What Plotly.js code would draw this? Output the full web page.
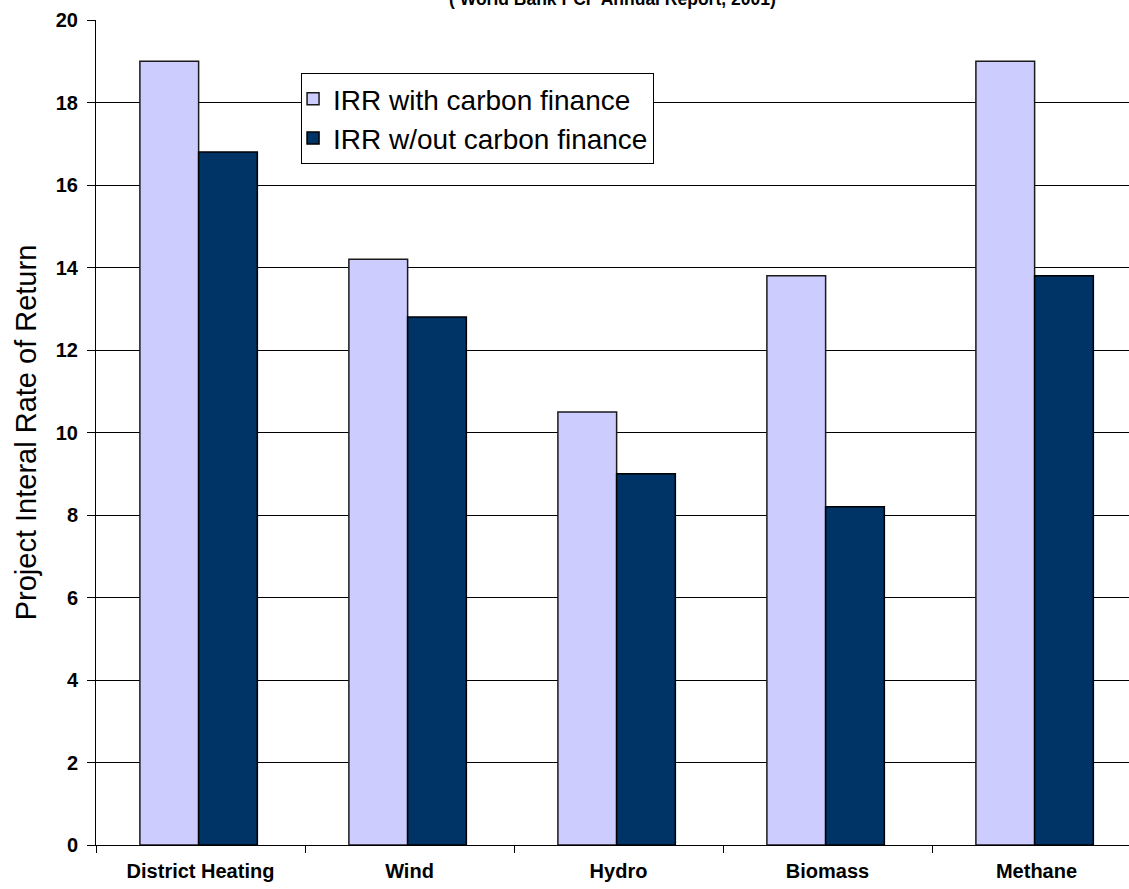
<!DOCTYPE html>
<html>
<head>
<meta charset="utf-8">
<script src="https://cdn.plot.ly/plotly-3.0.1.min.js"></script>
<style>
  html, body { margin: 0; padding: 0; background: #ffffff; overflow: hidden; }
  #chart { width: 1129px; height: 889px; }
</style>
</head>
<body>
<div id="chart"></div>
<script>
// Project types and their internal rates of return (%)
const projects = ["District Heating", "Wind", "Hydro", "Biomass", "Methane"];
const irrWithCarbon = [19.0, 14.2, 10.5, 13.8, 19.0];
const irrWithoutCarbon = [16.8, 12.8, 9.0, 8.2, 13.8];
const seriesNames = ["IRR with carbon finance", "IRR w/out carbon finance"];
const yTicks = [0, 2, 4, 6, 8, 10, 12, 14, 16, 18, 20];
const sourceNote = "( World Bank PCF Annual Report, 2001)";

const sans = "'Liberation Sans', Arial, sans-serif";

// bar width and offsets in category units (pair sits just left of centre)
const barWidth = 0.281;

const traces = [
  {
    type: "bar",
    name: seriesNames[0],
    x: projects,
    y: irrWithCarbon,
    legendgroup: "a",
    width: barWidth,
    offset: -0.29,
    marker: { color: "#CCCCFF", line: { color: "#1a1a1a", width: 1.5 } },
    hoverinfo: "x+y"
  },
  {
    type: "bar",
    name: seriesNames[1],
    x: projects,
    y: irrWithoutCarbon,
    legendgroup: "b",
    width: barWidth,
    offset: -0.009,
    marker: { color: "#003366", line: { color: "#000000", width: 1.5 } },
    hoverinfo: "x+y"
  }
];

const layout = {
  width: 1129,
  height: 889,
  margin: { l: 96, r: 0, t: 20, b: 44 },
  paper_bgcolor: "#ffffff",
  plot_bgcolor: "#ffffff",
  barmode: "group",
  showlegend: true,
  legend: {
    x: 0.1985, y: 0.9358, xanchor: "left", yanchor: "top",
    bgcolor: "#ffffff",
    bordercolor: "#000000",
    borderwidth: 1,
    font: { family: sans, size: 28, color: "#000000" },
    traceorder: "grouped",
    tracegroupgap: 0,
    itemwidth: 30,
    indentation: -9
  },
  xaxis: {
    type: "category",
    range: [-0.5, 4.4426],
    tickson: "boundaries",
    ticks: "outside",
    ticklen: 7,
    tickwidth: 1,
    tickcolor: "#000000",
    ticklabelstandoff: 8,
    showline: true,
    linecolor: "#000000",
    linewidth: 1,
    showgrid: false,
    fixedrange: true,
    tickfont: { family: sans, size: 20, color: "#000000", weight: "bold" }
  },
  yaxis: {
    range: [0, 20],
    tickvals: yTicks,
    ticktext: yTicks.map(String),
    ticks: "outside",
    ticklen: 8,
    tickwidth: 1,
    tickcolor: "#000000",
    ticklabelstandoff: 5,
    showline: true,
    linecolor: "#000000",
    linewidth: 1,
    showgrid: true,
    gridcolor: "#000000",
    gridwidth: 1,
    zeroline: false,
    fixedrange: true,
    tickfont: { family: sans, size: 20, color: "#000000", weight: "bold" },
    title: {
      text: "Project Interal Rate of Return",
      font: { family: sans, size: 29, color: "#000000" },
      standoff: 10
    }
  },
  annotations: [
    {
      text: sourceNote,
      xref: "paper", yref: "paper",
      x: 0.5, y: 1,
      xanchor: "center", yanchor: "bottom",
      yshift: 9,
      showarrow: false,
      font: { family: sans, size: 17.5, color: "#000000", weight: "bold" }
    }
  ]
};

Plotly.newPlot("chart", traces, layout, { displayModeBar: false, staticPlot: true });
</script>
</body>
</html>
